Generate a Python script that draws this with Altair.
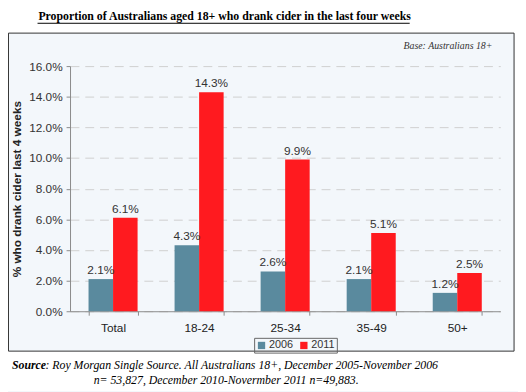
import altair as alt
import pandas as pd

categories = ["Total", "18-24", "25-34", "35-49", "50+"]
years = ["2006", "2011"]
values_2006 = [0.021, 0.043, 0.026, 0.021, 0.012]
values_2011 = [0.061, 0.143, 0.099, 0.051, 0.025]
y_ticks = [0.0, 0.02, 0.04, 0.06, 0.08, 0.10, 0.12, 0.14, 0.16]
colors = ["#5a8a9e", "#ff1a1f"]

title_text = "Proportion of Australians aged 18+ who drank cider in the last four weeks"
base_text = "Base: Australians 18+"
y_title = "% who drank cider last 4 weeks"
source_bold = "Source"
source_line1 = ": Roy Morgan Single Source. All Australians 18+, December 2005-November 2006"
source_line2 = "n= 53,827, December 2010-Novermber 2011 n=49,883."

rows = []
for c, a, b in zip(categories, values_2006, values_2011):
    rows.append({"group": c, "year": years[0], "value": a})
    rows.append({"group": c, "year": years[1], "value": b})
df = pd.DataFrame(rows)

SANS = "Liberation Sans, Arial, sans-serif"
SERIF = "Liberation Serif, Times New Roman, Times, serif"

x_enc = alt.X(
    "group:N",
    sort=categories,
    title=None,
    scale=alt.Scale(paddingInner=0.43, paddingOuter=0.215),
    axis=alt.Axis(
        labelAngle=0,
        tickBand="extent",
        labelFont=SANS,
        labelFontSize=12,
        labelColor="#222222",
        labelPadding=8,
        domainColor="#8a8a8a",
        tickColor="#8a8a8a",
        tickSize=4,
        grid=False,
    ),
)
xoff = alt.XOffset("year:N", sort=years)
y_enc = alt.Y(
    "value:Q",
    scale=alt.Scale(domain=[0, 0.16], nice=False),
    axis=alt.Axis(
        values=y_ticks,
        tickCount=len(y_ticks),
        format=".1%",
        labelOverlap=False,
        title=y_title,
        titleFont=SANS,
        titleFontSize=12,
        titleFontWeight="bold",
        titleColor="#222222",
        titlePadding=5,
        labelFont=SANS,
        labelFontSize=12,
        labelColor="#333333",
        labelPadding=4,
        domainColor="#8a8a8a",
        tickColor="#8a8a8a",
        tickSize=4,
        grid=True,
        gridColor="#cfcfcf",
        gridDash=[9, 6],
        gridWidth=1,
    ),
)

base = alt.Chart(df)
bars = base.mark_bar().encode(
    x=x_enc,
    xOffset=xoff,
    y=y_enc,
    color=alt.Color(
        "year:N",
        sort=years,
        scale=alt.Scale(domain=years, range=colors),
        legend=alt.Legend(
            title=None,
            orient="none",
            legendX=187,
            legendY=276,
            direction="horizontal",
            strokeColor="#666666",
            padding=2,
            symbolType="square",
            symbolSize=55,
            symbolStrokeWidth=0,
            labelFont=SANS,
            labelFontSize=11,
            labelColor="#333333",
            labelOffset=2,
            columnPadding=5,
        ),
    ),
)
labels = base.mark_text(dy=-9, font=SANS, fontSize=12, color="#333333").encode(
    x=alt.X("group:N", sort=categories),
    xOffset=xoff,
    y="value:Q",
    text=alt.Text("value:Q", format=".1%"),
)

one = pd.DataFrame({"a": [0]})
ann = alt.Chart(one)

white_top = ann.mark_rect(color="white").encode(
    x=alt.value(-70), x2=alt.value(460), y=alt.value(-60), y2=alt.value(-33.5)
)
white_bottom = ann.mark_rect(color="white").encode(
    x=alt.value(-70), x2=alt.value(460), y=alt.value(289.5), y2=alt.value(330)
)
white_right = ann.mark_rect(color="white").encode(
    x=alt.value(451.5), x2=alt.value(460), y=alt.value(-60), y2=alt.value(330)
)
border = ann.mark_rect(fillOpacity=0, stroke="#333333", strokeWidth=1).encode(
    x=alt.value(-62.5), x2=alt.value(451), y=alt.value(-33.5), y2=alt.value(289.5)
)

title = ann.mark_text(
    font=SERIF, fontSize=12, fontWeight="bold", color="black", align="center", baseline="alphabetic"
).encode(text=alt.value(title_text), x=alt.value(157), y=alt.value(-47))
underline = ann.mark_rule(color="black", strokeWidth=1).encode(
    x=alt.value(-33), x2=alt.value(345), y=alt.value(-43.5)
)
base_note = ann.mark_text(
    font=SERIF, fontSize=10, fontStyle="italic", color="#333333", align="right", baseline="alphabetic"
).encode(text=alt.value(base_text), x=alt.value(429), y=alt.value(-17))
src_b = ann.mark_text(
    font=SERIF, fontSize=12, fontStyle="italic", fontWeight="bold", color="black", align="left", baseline="alphabetic"
).encode(text=alt.value(source_bold), x=alt.value(-59), y=alt.value(308))
src_1 = ann.mark_text(
    font=SERIF, fontSize=12, fontStyle="italic", color="black", align="left", baseline="alphabetic"
).encode(text=alt.value(source_line1), x=alt.value(-25), y=alt.value(308))
src_2 = ann.mark_text(
    font=SERIF, fontSize=12, fontStyle="italic", color="black", align="left", baseline="alphabetic"
).encode(text=alt.value(source_line2), x=alt.value(24), y=alt.value(323))

chart = (
    alt.layer(
        bars, labels, white_top, white_bottom, white_right, border,
        title, underline, base_note, src_b, src_1, src_2,
    )
    .properties(
        width=437,
        height=249,
        autosize=alt.AutoSizeParams(type="none"),
        padding={"left": 63, "top": 56, "right": 18, "bottom": 79},
        background="#f3f7fb",
    )
    .configure_view(stroke=None)
)

chart.save("out.html", embed_options={"renderer": "svg", "actions": False})
